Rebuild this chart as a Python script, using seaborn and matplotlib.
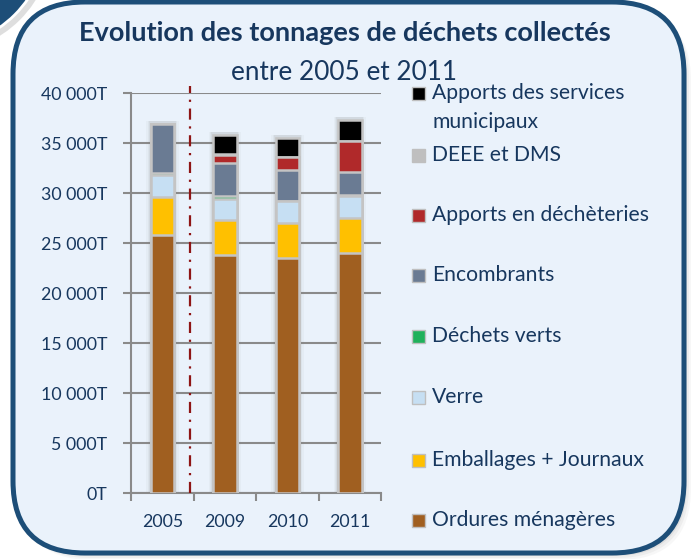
import numpy as np
import pandas as pd
import matplotlib.pyplot as plt
import seaborn as sns
from matplotlib.patches import FancyBboxPatch, Circle, Rectangle

# Data (tonnes)
years = ["2005", "2009", "2010", "2011"]
ordures = [25850, 23850, 23500, 24000]
emballages = [3800, 3500, 3500, 3500]
verre = [2150, 2100, 2170, 2170]
dechets_verts = [200, 230, 80, 150]
encombrants = [4950, 3330, 3020, 2250]
decheteries = [0, 830, 1330, 3100]
deee = [0, 50, 50, 50]
services = [0, 1950, 1850, 2050]

series_names = ["Ordures ménagères", "Emballages + Journaux", "Verre", "Déchets verts",
                "Encombrants", "Apports en déchèteries", "DEEE et DMS",
                "Apports des services\nmunicipaux"]
colors = ["#a05f20", "#ffc000", "#c6dff3", "#20b15b",
          "#6a7b93", "#b0292a", "#bfbfbf", "#000000"]
y_ticks = [0, 5000, 10000, 15000, 20000, 25000, 30000, 35000, 40000]
y_labels = ["0T", "5 000T", "10 000T", "15 000T", "20 000T",
            "25 000T", "30 000T", "35 000T", "40 000T"]
separator_x = 0.44

df = pd.DataFrame({"year": years})
for name, vals in zip(series_names, [ordures, emballages, verre, dechets_verts,
                                     encombrants, decheteries, deee, services]):
    df[name] = vals
cum = df[series_names].cumsum(axis=1)

navy = "#17375e"
plt.rcParams["font.family"] = ["Lato", "DejaVu Sans"]

fig = plt.figure(figsize=(6.93, 5.59), dpi=100)
fig.patch.set_facecolor("white")

# background frame (pixel coords)
bg = fig.add_axes([0, 0, 1, 1])
bg.set_xlim(0, 693)
bg.set_ylim(559, 0)
bg.axis("off")
for off, a in [(7, 0.06), (5, 0.08), (3, 0.12)]:
    bg.add_patch(FancyBboxPatch((13 + off, 2 + off), 671, 551,
                                boxstyle="round,pad=0,rounding_size=72",
                                fc="#7f7f7f", ec="none", alpha=a))
bg.add_patch(Circle((-60, -60), 113, fc="#7f7f7f", ec="none", alpha=0.25))
bg.add_patch(Circle((-63, -63), 110, fc="#1d4e78", ec="white", lw=2))
bg.add_patch(FancyBboxPatch((13, 2), 671, 551,
                            boxstyle="round,pad=0,rounding_size=72",
                            fc="#eaf2fb", ec="#1d4e78", lw=3.6))

bg.text(345, 33, "Evolution des tonnages de déchets collectés", ha="center",
        va="center", fontsize=19.5, fontweight="bold", color=navy)
bg.text(344, 72, "entre 2005 et 2011", ha="center", va="center",
        fontsize=18.8, color=navy)

# legend, top to bottom
leg_y = [107.5, 155, 215, 275, 336, 397, 460, 520]
for name, col, yc in zip(series_names[::-1], colors[::-1], leg_y):
    sq_y = 93 if "\n" in name else yc
    bg.add_patch(Rectangle((412, sq_y - 6.5), 13, 13, fc=col, ec="#bfbfbf", lw=1))
    bg.text(432, yc, name, ha="left", va="center", fontsize=15.2,
            color=navy, linespacing=1.6)

# chart
ax = fig.add_axes([131 / 693, 66 / 559, 250 / 693, 400 / 559])
ax.patch.set_alpha(0)

bar_w = 0.376
totals = cum[series_names[-1]]
for w, a in [(0.52, 0.05), (0.47, 0.07), (0.43, 0.10)]:
    sns.barplot(x=df["year"], y=totals + 300, color="#808080", width=w,
                saturation=1, alpha=a, errorbar=None, linewidth=0, ax=ax, zorder=2)
for name, col in zip(series_names[::-1], colors[::-1]):
    sns.barplot(x=df["year"], y=cum[name], color=col, width=bar_w, saturation=1,
                edgecolor="#c4c4c4", linewidth=1.8, errorbar=None, ax=ax, zorder=3)

ax.plot([separator_x, separator_x], [0, 40700], color="#8e1515", lw=1.6,
        linestyle=(0, (5, 3, 1, 3)), clip_on=False, zorder=4)

ax.set_ylim(0, 40000)
ax.set_xlim(-0.5, 3.5)
ax.set_yticks(y_ticks)
ax.set_yticklabels(y_labels)
ax.set_xticks([-0.5, 0.5, 1.5, 2.5, 3.5])
ax.set_xticklabels([])
ax.set_xticks(range(len(years)), minor=True)
ax.set_xticklabels(years, minor=True)
ax.set_xlabel("")
ax.set_ylabel("")
ax.yaxis.grid(True, color="#8a8a8a", lw=1.5)
ax.set_axisbelow(True)
ax.tick_params(axis="y", length=6, width=1.5, color="#8a8a8a", pad=11,
               labelsize=12.8, labelcolor=navy)
ax.tick_params(axis="x", which="major", length=6, width=1.5, color="#8a8a8a")
ax.tick_params(axis="x", which="minor", length=0, pad=15, labelsize=12.8,
               labelcolor=navy)
for s in ["top", "right"]:
    ax.spines[s].set_visible(False)
for s in ["left", "bottom"]:
    ax.spines[s].set_color("#8a8a8a")
    ax.spines[s].set_linewidth(1.5)

fig.savefig("out.png", dpi=100)
